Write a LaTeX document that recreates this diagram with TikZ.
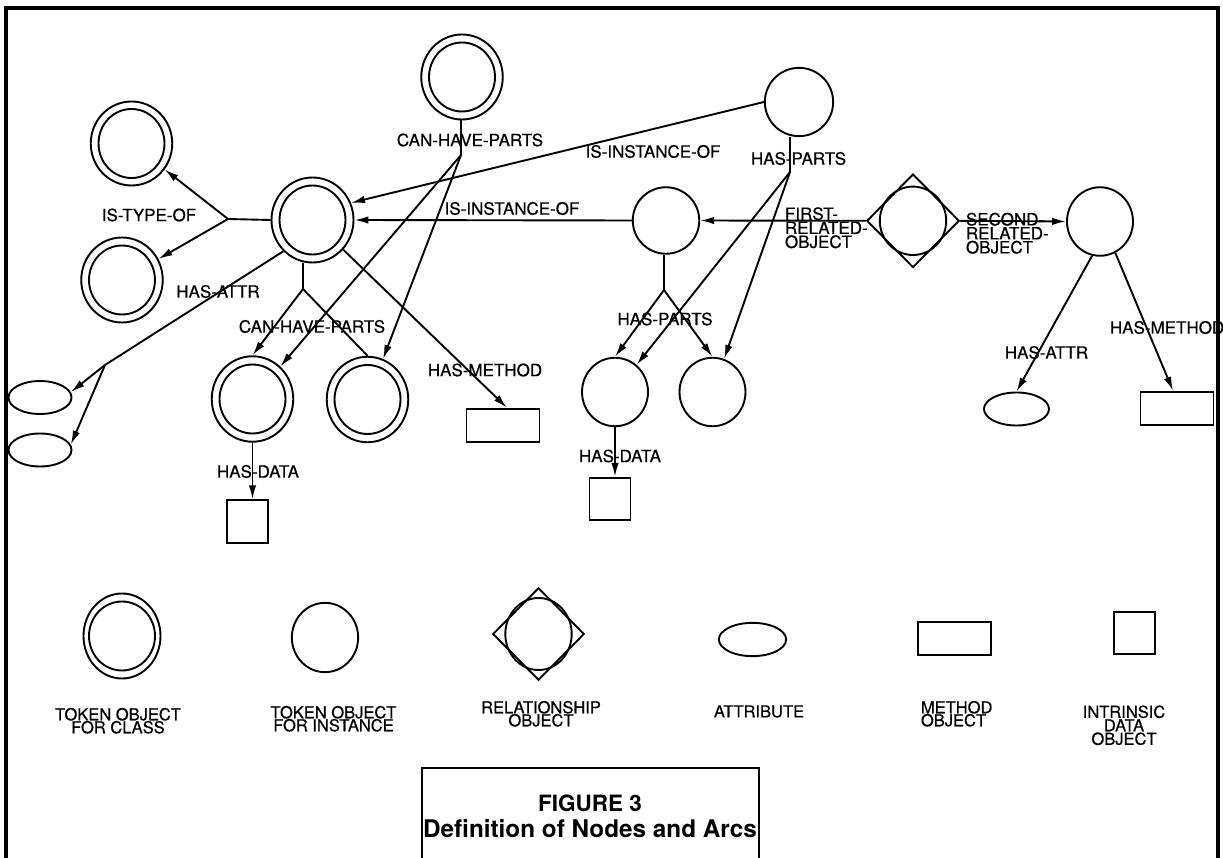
\documentclass[tikz,border=0pt]{standalone}
\usepackage{fontspec}
\setmainfont{TeX Gyre Heros}
\newfontfamily\medfam{TeX Gyre Heros}[FakeBold=0.6]
\usetikzlibrary{shapes.geometric,arrows.meta}
\newcommand\lblf{\medfam\fontsize{17}{14}\selectfont}
\newcommand\legf{\medfam\fontsize{16.5}{13}\selectfont}
\newcommand\ClsNode[5]{%
  \node[cls, minimum width=#4pt, minimum height=#5pt] (#1) at (#2,#3) {};
  \draw (#1.center) ellipse [x radius=33, y radius=34.5];}
\begin{document}
\begin{tikzpicture}[x=1pt,y=-1pt,line width=1.9pt,
  cls/.style={ellipse, draw, inner sep=0pt},
  inst/.style={ellipse, draw, inner sep=0pt, minimum width=66pt, minimum height=68.5pt},
  attr/.style={ellipse, draw, inner sep=0pt, minimum width=63pt, minimum height=33pt},
  meth/.style={rectangle, draw, inner sep=0pt, minimum width=73pt, minimum height=33.5pt},
  dat/.style={rectangle, draw, inner sep=0pt, minimum width=41pt, minimum height=42.5pt},
  rel/.style={diamond, draw, inner sep=0pt, minimum width=92.5pt, minimum height=93.5pt},
  lbl/.style={font=\lblf, inner sep=0pt},
  leg/.style={font=\legf, inner sep=0pt, align=center},
  arr/.style={-{Latex[length=14pt,width=7.5pt]}},
  frame/.style={line width=3.5pt},
  capbox/.style={line width=2.7pt}]
\useasboundingbox (0,0) rectangle (1223,858);

% frame
\draw[frame] (6,875) -- (6,8) -- (1218,8) -- (1218,875);

% class nodes
\ClsNode{Ctop}{462}{77}{81.5}{85}
\ClsNode{Ctl}{131.5}{143.5}{81.5}{84}
\ClsNode{Cbl}{122}{280}{81.5}{85}
\ClsNode{Cmain}{312.5}{220}{82}{85}
\ClsNode{Ca}{252.5}{399}{81.5}{85.5}
\ClsNode{Cb}{367.5}{399.5}{81.5}{85.5}

% instance nodes
\node[inst, minimum width=68.3pt, minimum height=68.3pt] (Itop) at (799,102) {};
\node[inst, minimum width=66.5pt, minimum height=66.5pt] (Imid) at (666,220.5) {};
\node[inst] (Ir) at (1100,221.5) {};
\node[inst] (Cd) at (615,392) {};
\node[inst] (Ce) at (712.5,392) {};

% relationship
\node[rel] (Rel) at (913,220.8) {};
\draw (Rel.center) ellipse [x radius=33.2, y radius=34.2];

% attributes, methods, data
\node[attr] (A1) at (40,397.5) {};
\node[attr] (A2) at (40,450) {};
\node[attr, minimum width=65pt] (Ar) at (1016.5,409) {};
\node[meth] (M1) at (503,425.5) {};
\node[meth] (Mr) at (1177,408.5) {};
\node[dat] (D1) at (247.5,521.5) {};
\node[dat] (D2) at (610,499) {};

% junctions
\coordinate (J1) at (228,219);
\coordinate (J2) at (105,365);
\coordinate (J3) at (303,289);
\coordinate (J4) at (461,155);
\coordinate (J5) at (790,172);
\coordinate (J6) at (664,290);

% IS-TYPE-OF
\draw (Cmain.west) -- (J1);
\draw[arr] (J1) -- (Ctl);
\draw[arr] (J1) -- (Cbl);
% HAS-ATTR (left)
\draw (Cmain.-133) -- (J2);
\draw[arr] (J2) -- (A1.10);
\draw[arr] (J2) -- (A2.10);
% CAN-HAVE-PARTS (lower)
\draw (J3 |- Cmain.south) -- (J3);
\draw[arr] (J3) -- (Ca.north);
\draw (J3) -- (Cb.north);
% CAN-HAVE-PARTS (upper)
\draw (J4 |- Ctop.south) -- (J4);
\draw[arr] (J4) -- (Ca);
\draw[arr] (J4) -- (Cb);
% HAS-METHOD (left)
\draw[arr] (Cmain) -- ([xshift=4pt]M1.north);
% HAS-DATA (left)
\draw[arr] (Ca.south) -- (Ca.south |- D1.north);
% IS-INSTANCE-OF
\draw[arr] (Itop.west) -- (Cmain.24);
\draw[arr] (Imid.west) -- (Cmain.east);
% related objects
\draw[arr] (Rel.west) -- (Imid.east);
\draw[arr] (Rel.east) -- (Ir.west);
% HAS-PARTS (upper)
\draw (J5 |- Itop.south) -- (J5);
\draw[arr] (J5) -- (Cd);
\draw[arr] (J5) -- (Ce);
% HAS-PARTS (lower)
\draw (J6 |- Imid.south) -- (J6);
\draw[arr] (J6) -- (Cd.north);
\draw[arr] (J6) -- (Ce.north);
% HAS-DATA (right)
\draw[arr] (Cd.south) -- (Cd.south |- D2.north);
% right instance
\draw[arr] (Ir.-103) -- (Ar.north);
\draw[arr] (Ir.-64) -- ([xshift=-4pt]Mr.north);

% labels
\node[lbl] (lIsType) at (149,215) {IS-TYPE-OF};
\node[lbl] (lAttrL) at (218,291.5) {HAS-ATTR};
\node[lbl] (lChpTop) at (470,140) {CAN-HAVE-PARTS};
\node[lbl] (lChpLow) at (312,326.5) {CAN-HAVE-PARTS};
\node[lbl] (lMethL) at (485,370) {HAS-METHOD};
\node[lbl] (lDataL) at (258,471.5) {HAS-DATA};
\node[lbl] (lInstUp) at (653,151.5) {IS-INSTANCE-OF};
\node[lbl] (lInstLow) at (512,208.5) {IS-INSTANCE-OF};
\node[lbl] (lPartsUp) at (798.5,158.5) {HAS-PARTS};
\node[lbl] (lPartsLow) at (665,319) {HAS-PARTS};
\node[lbl] (lDataR) at (620,456) {HAS-DATA};
\node[lbl] (lAttrR) at (1046.5,352.5) {HAS-ATTR};
\node[lbl, anchor=west] (lMethR) at (1109,327.5) {HAS-METHOD};
\node[lbl, align=left, anchor=north west] (lFirst) at (784,206.3) {FIRST-\\RELATED-\\OBJECT};
\node[lbl, align=left, anchor=north west] (lSecond) at (965,211.8) {SECOND-\\RELATED-\\OBJECT};

% legend
\ClsNode{Lcls}{122}{636}{77}{85}
\node[inst, minimum width=66.3pt, minimum height=69.3pt] (Linst) at (325,637.5) {};
\node[rel, minimum width=91.5pt, minimum height=92.5pt] (Lrel) at (538.5,634) {};
\draw (Lrel.center) ellipse [x radius=33.2, y radius=36];
\node[attr, minimum width=67.3pt, minimum height=33.3pt] (Latt) at (752.5,639.5) {};
\node[meth] (Lmeth) at (954.5,638.5) {};
\node[dat, minimum width=41.3pt, minimum height=42.3pt] (Ldat) at (1134.5,633) {};

\node[leg, anchor=north] (tCls) at (118,707) {TOKEN OBJECT\\FOR CLASS};
\node[leg, anchor=north] (tInst) at (333.5,705) {TOKEN OBJECT\\FOR INSTANCE};
\node[leg, anchor=north] (tRel) at (541,700) {RELATIONSHIP\\OBJECT};
\node[leg] (tAtt) at (759,711.5) {ATTRIBUTE};
\node[leg, align=left, anchor=north west] (tMeth) at (920,700) {METHOD\\OBJECT};
\node[leg, anchor=north, font=\medfam\fontsize{16.5}{13.5}\selectfont] (tDat) at (1124,704.5) {INTRINSIC\\DATA\\OBJECT};

% caption box
\draw[capbox] (422,875) -- (422,768) -- (759,768) -- (759,875);
\node[inner sep=0pt, font=\fontsize{22.5}{26}\selectfont\bfseries] (capA) at (590,803.5) {FIGURE 3};
\node[inner sep=0pt, font=\fontsize{24.3}{26}\selectfont\bfseries, anchor=base] (capB) at (590,837) {Definition of Nodes and Arcs};
\end{tikzpicture}
\end{document}
